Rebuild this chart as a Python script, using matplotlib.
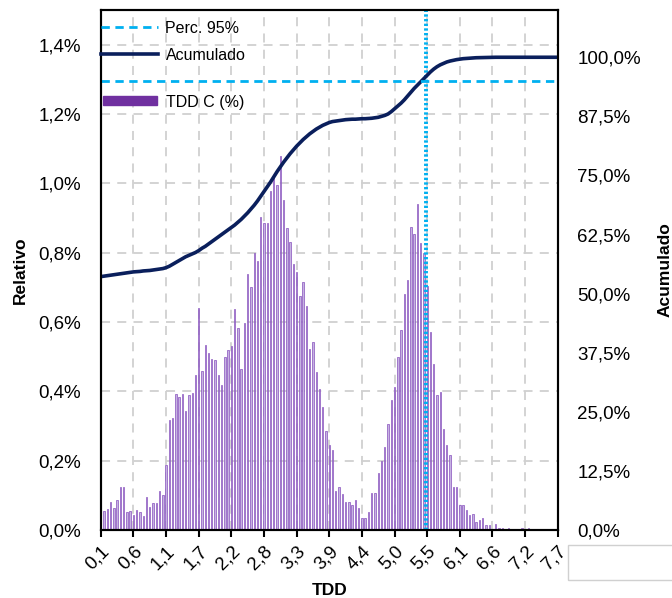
import numpy as np
import matplotlib.pyplot as plt
from matplotlib.lines import Line2D
from matplotlib.patches import Patch, Rectangle

plt.rcParams['font.family'] = ['Liberation Sans', 'DejaVu Sans']

# tick labels shown every 10 categories
tick_labels = ["0,1", "0,6", "1,1", "1,7", "2,2", "2,8", "3,3", "3,9",
               "4,4", "5,0", "5,5", "6,1", "6,6", "7,2", "7,7"]

# relative frequency (%) per TDD class
tdd_rel = [0.043, 0.055, 0.062, 0.081, 0.064, 0.086, 0.124, 0.124, 0.053, 0.055,
           0.043, 0.057, 0.053, 0.040, 0.095, 0.067, 0.078, 0.078, 0.112, 0.101,
           0.187, 0.318, 0.324, 0.393, 0.385, 0.393, 0.343, 0.390, 0.395, 0.448,
           0.640, 0.460, 0.535, 0.510, 0.493, 0.489, 0.448, 0.417, 0.498, 0.520,
           0.530, 0.637, 0.582, 0.463, 0.597, 0.738, 0.702, 0.800, 0.776, 0.902,
           0.886, 0.886, 0.977, 1.020, 0.996, 1.078, 0.953, 0.872, 0.831, 0.768,
           0.745, 0.676, 0.714, 0.647, 0.522, 0.541, 0.455, 0.407, 0.356, 0.287,
           0.246, 0.232, 0.112, 0.124, 0.104, 0.081, 0.081, 0.072, 0.086, 0.063,
           0.036, 0.036, 0.051, 0.108, 0.108, 0.163, 0.198, 0.240, 0.307, 0.374,
           0.412, 0.498, 0.578, 0.680, 0.722, 0.874, 0.853, 0.939, 0.829, 0.800,
           0.704, 0.570, 0.479, 0.388, 0.397, 0.292, 0.245, 0.216, 0.123, 0.124,
           0.072, 0.072, 0.057, 0.043, 0.045, 0.024, 0.029, 0.036, 0.014, 0.014,
           0.002, 0.016, 0.005, 0.007, 0.004, 0.005, 0.004, 0.003, 0.003, 0.005,
           0.000, 0.005, 0.000, 0.000, 0.000, 0.000, 0.000, 0.000, 0.000, 0.000,
           0.000]

# cumulative curve (%) per class
acumulado = [53.6, 53.7, 53.8, 53.9, 54.0, 54.1, 54.2, 54.3, 54.4, 54.5,
             54.6, 54.65, 54.7, 54.8, 54.85, 54.9, 55.0, 55.1, 55.2, 55.3,
             55.5, 55.8, 56.2, 56.6, 57.0, 57.4, 57.8, 58.1, 58.4, 58.7,
             59.1, 59.6, 60.0, 60.5, 61.0, 61.5, 62.0, 62.5, 63.0, 63.5,
             64.0, 64.5, 65.1, 65.7, 66.4, 67.1, 67.9, 68.7, 69.6, 70.6,
             71.6, 72.6, 73.6, 74.7, 75.8, 76.8, 77.8, 78.7, 79.6, 80.4,
             81.2, 81.9, 82.6, 83.2, 83.8, 84.3, 84.8, 85.2, 85.6, 85.9,
             86.2, 86.4, 86.5, 86.6, 86.7, 86.8, 86.85, 86.9, 86.9, 86.95,
             87.0, 87.0, 87.05, 87.1, 87.2, 87.3, 87.5, 87.7, 88.0, 88.5,
             89.1, 89.7, 90.3, 91.0, 91.8, 92.6, 93.4, 94.1, 94.8, 95.5,
             96.2, 96.9, 97.5, 98.0, 98.4, 98.7, 99.0, 99.2, 99.35, 99.5,
             99.6, 99.7, 99.75, 99.8, 99.85, 99.9, 99.92, 99.95, 99.97, 99.98,
             100.0, 100.0, 100.0, 100.0, 100.0, 100.0, 100.0, 100.0, 100.0, 100.0,
             100.0, 100.0, 100.0, 100.0, 100.0, 100.0, 100.0, 100.0, 100.0, 100.0,
             100.0]

perc95_level = 95.0   # cumulative level (%)
perc95_class = 99.5   # class position where cumulative reaches 95%

left_ticks = [0.0, 0.2, 0.4, 0.6, 0.8, 1.0, 1.2, 1.4]
right_ticks = [0.0, 12.5, 25.0, 37.5, 50.0, 62.5, 75.0, 87.5, 100.0]

purple = '#7030A0'
navy = '#0A1F5C'
cyan = '#00B0F0'

fig = plt.figure(figsize=(6.72, 5.98), dpi=100)
ax = fig.add_axes([0.150, 0.1137, 0.680, 0.8696])
ax2 = ax.twinx()

x = np.arange(len(tdd_rel))

# bars on primary axis
ax.bar(x, tdd_rel, width=0.42, facecolor='#c6b2e2', edgecolor='#8750bd', linewidth=0.5)
ax.axvline(perc95_class, color=cyan, linestyle=(0, (0.6, 0.6)), linewidth=2.8)

ax.set_xlim(0, len(tdd_rel) - 1)
ax.set_ylim(0, 1.5)
ax.set_yticks(left_ticks)
ax.set_yticklabels([f"{v:.1f}%".replace('.', ',') for v in left_ticks], fontsize=13.5)
ax.set_xticks(x[::10])
ax.set_xticklabels(tick_labels, rotation=45, ha='right', rotation_mode='anchor', fontsize=13.5)
ax.set_axisbelow(True)
ax.grid(True, color='#d0d0d0', linestyle=(0, (5, 4)), linewidth=1.3)
ax.tick_params(axis='y', length=0, pad=14)
ax.tick_params(axis='x', length=5, width=1.5, direction='out', pad=4)

# cumulative on secondary axis
ax2.plot(x, acumulado, color=navy, linewidth=2.6)
ax2.axhline(perc95_level, color=cyan, linestyle=(0, (3, 2)), linewidth=2)
ax2.set_ylim(0, 110)
ax2.set_yticks(right_ticks)
ax2.set_yticklabels([f"{v:.1f}%".replace('.', ',') for v in right_ticks], fontsize=13.5)
ax2.tick_params(axis='y', length=0, pad=14)

for sp in ax.spines.values():
    sp.set_linewidth(1.5)
    sp.set_color('black')
for sp in ax2.spines.values():
    sp.set_linewidth(1.5)
    sp.set_color('black')

ax.set_ylabel("Relativo", fontsize=12.5, fontweight='bold', labelpad=8)
ax2.set_ylabel("Acumulado", fontsize=12.5, fontweight='bold', labelpad=12)
ax.set_xlabel("TDD", fontsize=12.5, fontweight='bold', labelpad=7)

h95 = Line2D([], [], color=cyan, linestyle=(0, (3, 2)), linewidth=2)
hacu = Line2D([], [], color=navy, linewidth=2.6)
leg1 = ax2.legend([h95, hacu], ["Perc. 95%", "Acumulado"], loc='center left',
                  bbox_to_anchor=(0.0, 0.939), frameon=False, fontsize=11.5,
                  handlelength=3.6, handletextpad=0.45, borderpad=0,
                  borderaxespad=0, labelspacing=0.75)
ax2.add_artist(leg1)
hbar = Patch(facecolor=purple, edgecolor=purple)
ax2.legend([hbar], ["TDD C (%)"], loc='center left', bbox_to_anchor=(0.004, 0.823),
           frameon=False, fontsize=11.5, handlelength=3.4, handleheight=0.5,
           handletextpad=0.55, borderpad=0, borderaxespad=0)

# blank box in the lower right corner of the original
fig.add_artist(Rectangle((568 / 672, 1 - 580 / 598), 0.2, 35 / 598,
                         transform=fig.transFigure, fill=False,
                         edgecolor='#d0d0d0', linewidth=1))

fig.savefig("out.png", dpi=100)
